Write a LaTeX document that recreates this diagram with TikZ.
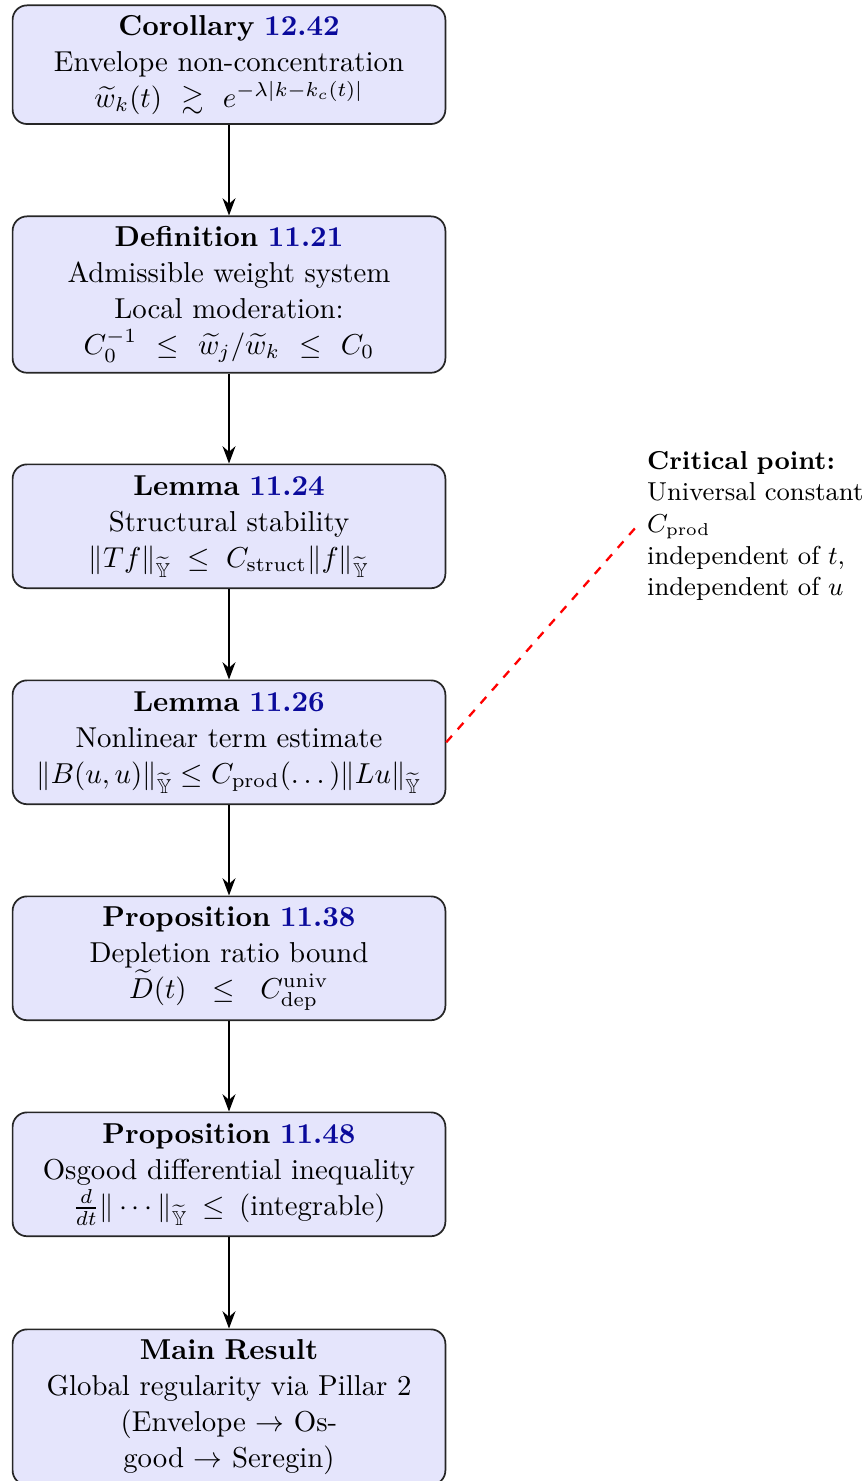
\documentclass[tikz,border=0pt]{standalone}
\usepackage{amsmath,amssymb}
\usetikzlibrary{arrows.meta}

\definecolor{numblue}{RGB}{10,10,155}
\definecolor{boxfill}{RGB}{229,229,252}

\tikzset{
  resultbox/.style={draw=black!85, line width=0.6pt, fill=boxfill,
    rounded corners=5pt, text width=143.6pt, align=center,
    inner sep=3.33pt, anchor=north, font=\fontsize{10}{12.5}\selectfont},
  flowarrow/.style={-{Stealth[length=6pt,width=4.5pt]}, line width=0.6pt},
  notetext/.style={font=\small, align=left, text width=80pt, anchor=west},
  critlink/.style={red, dashed, line width=0.8pt}
}
\newcommand{\refnum}[1]{\textcolor{numblue}{#1}}
\newcommand{\Ynorm}{\widetilde{\mathbb{Y}}}
% a formula line that keeps its own spacing
\newcommand{\fline}[1]{\mbox{$#1$}}

\begin{document}
\begin{tikzpicture}[x={(0.34722pt,0)}, y={(0,-0.34722pt)}]
  \useasboundingbox (0,0) rectangle (867,1481);

  \node[resultbox, minimum height=41.2pt] (cor) at (229,4.5)
    {\textbf{Corollary \refnum{12.42}}\\
     Envelope non-concentration\\
     \fline{\widetilde{w}_k(t)\mskip7mu\gtrsim\mskip7mu e^{-\lambda|k-k_c(t)|}}};

  \node[resultbox, minimum height=54.3pt] (def) at (229,215.5)
    {\textbf{Definition \refnum{11.21}}\\
     Admissible weight system\\
     Local moderation:\\
     \fline{C_0^{-1}\mskip7mu\le\mskip7mu\widetilde{w}_j/\widetilde{w}_k\mskip7mu\le\mskip7mu C_0}};

  \node[resultbox, minimum height=43pt] (stab) at (229,463.5)
    {\textbf{Lemma \refnum{11.24}}\\
     Structural stability\\
     \fline{\|Tf\|_{\Ynorm}\mskip5mu\le\mskip5mu C_{\mathrm{struct}}\|f\|_{\Ynorm}}};

  \node[resultbox, minimum height=43pt] (nonlin) at (229,679.5)
    {\textbf{Lemma \refnum{11.26}}\\
     Nonlinear term estimate\\
     \fline{\|B(u,u)\|_{\Ynorm}\le C_{\mathrm{prod}}(\dots)\|Lu\|_{\Ynorm}}};

  \node[resultbox, minimum height=43pt] (depl) at (229,895.5)
    {\textbf{Proposition \refnum{11.38}}\\
     Depletion ratio bound\\
     \fline{\widetilde{D}(t)\mskip11mu\le\mskip11mu C^{\mathrm{univ}}_{\mathrm{dep}}}};

  \node[resultbox, minimum height=43pt] (osg) at (229,1111.5)
    {\textbf{Proposition \refnum{11.48}}\\
     Osgood differential inequality\\
     \fline{\frac{d}{dt}\|\cdots\|_{\Ynorm}\mskip4mu\le\mskip4mu(\text{integrable})}};

  \node[resultbox, minimum height=54pt] (main) at (229,1328.5)
    {\textbf{Main Result}\\
     Global regularity via Pillar 2\\
     (Envelope $\to$ Os-\\
     good $\to$ Seregin)};

  \node[notetext] (crit) at (637,526)
    {\textbf{Critical point:}\\
     Universal constant\\
     $C_{\mathrm{prod}}$\\
     independent of $t$,\\
     independent of $u$};

  \draw[flowarrow] (cor.south) -- (def.north);
  \draw[flowarrow] (def.south) -- (stab.north);
  \draw[flowarrow] (stab.south) -- (nonlin.north);
  \draw[flowarrow] (nonlin.south) -- (depl.north);
  \draw[flowarrow] (depl.south) -- (osg.north);
  \draw[flowarrow] (osg.south) -- (main.north);

  \draw[critlink] (nonlin.east) -- (crit.west);
\end{tikzpicture}
\end{document}
